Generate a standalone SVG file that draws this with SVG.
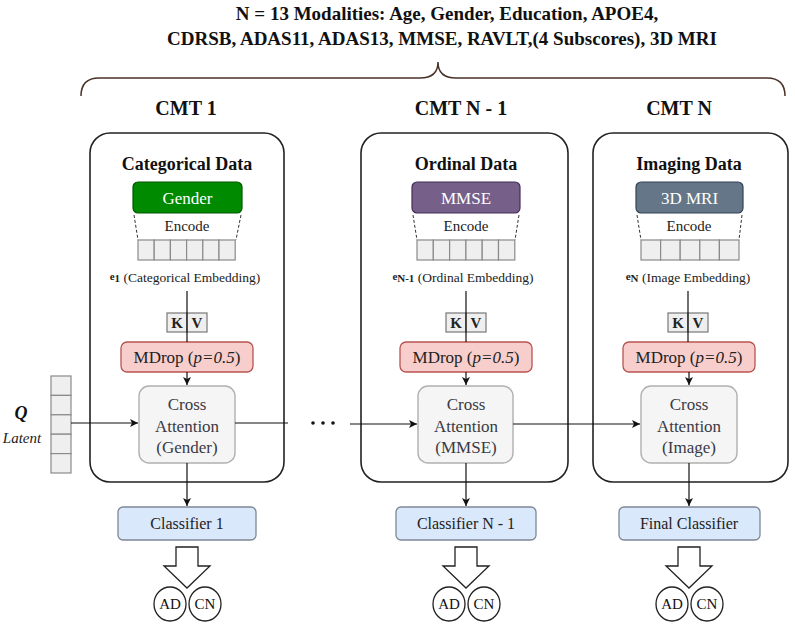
<svg xmlns="http://www.w3.org/2000/svg" width="795" height="625" viewBox="0 0 795 625">
<defs>
<marker id="ah" viewBox="0 0 10 10" refX="10" refY="5" markerWidth="8" markerHeight="8" markerUnits="userSpaceOnUse" orient="auto">
<path d="M0,0 L10,5 L0,10 L2.5,5 z" fill="#111"/>
</marker>
<style>
.t{font-family:"Liberation Serif","Times New Roman",serif;}
.title{font-size:19px;font-weight:bold;fill:#111;}
.cmt{font-size:20px;font-weight:bold;fill:#111;}
.hdr{font-size:18px;font-weight:bold;fill:#111;}
.cmt-box{fill:none;stroke:#222;stroke-width:1.6;}
.mod{font-size:17px;fill:#fff;}
.enc{font-size:15px;fill:#222;}
.cell{fill:#efefef;stroke:#8a8a8a;stroke-width:1.2;}
.dash{stroke:#333;stroke-width:1;stroke-dasharray:3 2;fill:none;}
.emb{font-size:13.5px;fill:#222;}
.embsub{font-size:11px;font-weight:bold;fill:#222;}
.kv{fill:#efefef;stroke:#777;stroke-width:1.2;}
.kvt{font-size:15px;font-weight:bold;fill:#222;}
.md{fill:#f8cecc;stroke:#b85450;stroke-width:1.3;}
.mdt{font-size:17px;fill:#222;}
.ca{fill:#f5f5f5;stroke:#b0b0b0;stroke-width:1.4;}
.cat{font-size:17px;fill:#3a3a44;}
.cl{fill:#dae8fc;stroke:#7d8896;stroke-width:1.3;}
.clt{font-size:16px;fill:#222;}
.ln{stroke:#111;stroke-width:1.2;fill:none;}
.hol{fill:#fff;stroke:#222;stroke-width:1.3;}
.circ{fill:#fff;stroke:#222;stroke-width:1.3;}
.ct{font-size:15px;fill:#111;}
</style>
</defs>

<g id="title">
<text class="t title" x="447" y="20" text-anchor="middle">N = 13 Modalities: Age, Gender, Education, APOE4,</text>
<text class="t title" x="442" y="45" text-anchor="middle">CDRSB, ADAS11, ADAS13, MMSE, RAVLT,(4 Subscores), 3D MRI</text>
<path d="M81,96 Q81,78 99,78 L420,78 Q438,78 438,62 Q438,78 456,78 L767,78 Q785,78 785,96" fill="none" stroke="#4a3228" stroke-width="1.5"/>
</g>

<g id="cmt1">
<text class="t cmt" x="186" y="115" text-anchor="middle">CMT 1</text>
<rect class="cmt-box" x="90" y="133" width="194" height="349" rx="20"/>
<text class="t hdr" x="187" y="170" text-anchor="middle">Categorical Data</text>
<rect x="133" y="182" width="109" height="31" rx="5" fill="#008a00" stroke="#005700" stroke-width="1.2"/>
<text class="t mod" x="187.5" y="204" text-anchor="middle">Gender</text>
<path class="dash" d="M134,215 L138,240 M241,215 L236,240"/>
<text class="t enc" x="187" y="231" text-anchor="middle">Encode</text>
<rect class="cell" x="138" y="240" width="16.2" height="20"/>
<rect class="cell" x="154.2" y="240" width="16.2" height="20"/>
<rect class="cell" x="170.4" y="240" width="16.2" height="20"/>
<rect class="cell" x="186.6" y="240" width="16.2" height="20"/>
<rect class="cell" x="202.8" y="240" width="16.2" height="20"/>
<rect class="cell" x="219" y="240" width="16.2" height="20"/>
<text class="t emb" x="185" y="282" text-anchor="middle"><tspan class="embsub" dy="-2">e</tspan><tspan class="embsub" dy="2">1</tspan> (Categorical Embedding)</text>
<rect class="kv" x="167" y="313" width="20" height="19"/>
<rect class="kv" x="187" y="313" width="20" height="19"/>
<text class="t kvt" x="177" y="328" text-anchor="middle">K</text>
<text class="t kvt" x="197" y="328" text-anchor="middle">V</text>
<rect class="md" x="121" y="342" width="132" height="30" rx="6"/>
<text class="t mdt" x="187" y="363" text-anchor="middle">MDrop (<tspan font-style="italic">p=0.5</tspan>)</text>
<rect class="ca" x="139" y="386" width="96" height="77" rx="10"/>
<text class="t cat" x="187" y="410" text-anchor="middle">Cross</text>
<text class="t cat" x="187" y="432" text-anchor="middle">Attention</text>
<text class="t cat" x="187" y="453" text-anchor="middle">(Gender)</text>
<rect class="cl" x="118" y="507" width="138" height="33" rx="5"/>
<text class="t clt" x="187" y="529" text-anchor="middle">Classifier 1</text>
<path class="hol" d="M176,547 L198,547 L198,566 L210,566 L187,588 L164,566 L176,566 Z"/>
<ellipse class="circ" cx="170" cy="604" rx="16" ry="17"/>
<ellipse class="circ" cx="205" cy="604" rx="16" ry="17"/>
<text class="t ct" x="170" y="609" text-anchor="middle">AD</text>
<text class="t ct" x="205" y="609" text-anchor="middle">CN</text>
</g>

<g id="latent">
<rect class="cell" x="51" y="376" width="20" height="19.4"/>
<rect class="cell" x="51" y="395.4" width="20" height="19.4"/>
<rect class="cell" x="51" y="414.8" width="20" height="19.4"/>
<rect class="cell" x="51" y="434.2" width="20" height="19.4"/>
<rect class="cell" x="51" y="453.6" width="20" height="19.4"/>
<text class="t" x="21" y="419" text-anchor="middle" font-size="18" font-weight="bold" font-style="italic" fill="#111">Q</text>
<text class="t" x="22" y="443" text-anchor="middle" font-size="15" font-style="italic" fill="#222">Latent</text>
</g>

<g id="cmtn1">
<text class="t cmt" x="461" y="115" text-anchor="middle">CMT N - 1</text>
<rect class="cmt-box" x="361" y="133" width="207" height="349" rx="20"/>
<text class="t hdr" x="466" y="170" text-anchor="middle">Ordinal Data</text>
<rect x="412" y="182" width="108" height="31" rx="5" fill="#76608a" stroke="#432d57" stroke-width="1.2"/>
<text class="t mod" x="466" y="204" text-anchor="middle">MMSE</text>
<path class="dash" d="M413,215 L417,240 M519,215 L515,240"/>
<text class="t enc" x="466" y="231" text-anchor="middle">Encode</text>
<rect class="cell" x="417" y="240" width="16.3" height="20"/>
<rect class="cell" x="433.3" y="240" width="16.3" height="20"/>
<rect class="cell" x="449.6" y="240" width="16.3" height="20"/>
<rect class="cell" x="465.9" y="240" width="16.3" height="20"/>
<rect class="cell" x="482.2" y="240" width="16.3" height="20"/>
<rect class="cell" x="498.5" y="240" width="16.3" height="20"/>
<text class="t emb" x="463" y="282" text-anchor="middle"><tspan class="embsub" dy="-2">e</tspan><tspan class="embsub" dy="2">N-1</tspan> (Ordinal Embedding)</text>
<rect class="kv" x="446" y="313" width="20" height="19"/>
<rect class="kv" x="466" y="313" width="20" height="19"/>
<text class="t kvt" x="456" y="328" text-anchor="middle">K</text>
<text class="t kvt" x="476" y="328" text-anchor="middle">V</text>
<rect class="md" x="400" y="342" width="132" height="30" rx="6"/>
<text class="t mdt" x="466" y="363" text-anchor="middle">MDrop (<tspan font-style="italic">p=0.5</tspan>)</text>
<rect class="ca" x="418" y="386" width="95" height="77" rx="10"/>
<text class="t cat" x="466" y="410" text-anchor="middle">Cross</text>
<text class="t cat" x="466" y="432" text-anchor="middle">Attention</text>
<text class="t cat" x="466" y="453" text-anchor="middle">(MMSE)</text>
<rect class="cl" x="396" y="507" width="140" height="33" rx="5"/>
<text class="t clt" x="466" y="529" text-anchor="middle">Classifier N - 1</text>
<path class="hol" d="M455,547 L477,547 L477,566 L489,566 L466,588 L443,566 L455,566 Z"/>
<ellipse class="circ" cx="449" cy="604" rx="16" ry="17"/>
<ellipse class="circ" cx="484" cy="604" rx="16" ry="17"/>
<text class="t ct" x="449" y="609" text-anchor="middle">AD</text>
<text class="t ct" x="484" y="609" text-anchor="middle">CN</text>
</g>

<g id="cmtn">
<text class="t cmt" x="679" y="115" text-anchor="middle">CMT N</text>
<rect class="cmt-box" x="593" y="133" width="195" height="349" rx="20"/>
<text class="t hdr" x="689" y="170" text-anchor="middle">Imaging Data</text>
<rect x="636" y="182" width="107" height="31" rx="5" fill="#647687" stroke="#314354" stroke-width="1.2"/>
<text class="t mod" x="689.5" y="204" text-anchor="middle">3D MRI</text>
<path class="dash" d="M637,215 L641,240 M742,215 L739,240"/>
<text class="t enc" x="689" y="231" text-anchor="middle">Encode</text>
<rect class="cell" x="641" y="240" width="19.6" height="20"/>
<rect class="cell" x="660.6" y="240" width="19.6" height="20"/>
<rect class="cell" x="680.2" y="240" width="19.6" height="20"/>
<rect class="cell" x="699.8" y="240" width="19.6" height="20"/>
<rect class="cell" x="719.4" y="240" width="19.6" height="20"/>
<text class="t emb" x="688" y="282" text-anchor="middle"><tspan class="embsub" dy="-2">e</tspan><tspan class="embsub" dy="2">N</tspan> (Image Embedding)</text>
<rect class="kv" x="668" y="313" width="20" height="19"/>
<rect class="kv" x="688" y="313" width="20" height="19"/>
<text class="t kvt" x="678" y="328" text-anchor="middle">K</text>
<text class="t kvt" x="698" y="328" text-anchor="middle">V</text>
<rect class="md" x="623" y="342" width="132" height="30" rx="6"/>
<text class="t mdt" x="689" y="363" text-anchor="middle">MDrop (<tspan font-style="italic">p=0.5</tspan>)</text>
<rect class="ca" x="641" y="386" width="96" height="77" rx="10"/>
<text class="t cat" x="689" y="410" text-anchor="middle">Cross</text>
<text class="t cat" x="689" y="432" text-anchor="middle">Attention</text>
<text class="t cat" x="689" y="453" text-anchor="middle">(Image)</text>
<rect class="cl" x="619" y="507" width="141" height="33" rx="5"/>
<text class="t clt" x="689" y="529" text-anchor="middle">Final Classifier</text>
<path class="hol" d="M678,547 L700,547 L700,566 L712,566 L689,588 L666,566 L678,566 Z"/>
<ellipse class="circ" cx="672" cy="604" rx="16" ry="17"/>
<ellipse class="circ" cx="707" cy="604" rx="16" ry="17"/>
<text class="t ct" x="672" y="609" text-anchor="middle">AD</text>
<text class="t ct" x="707" y="609" text-anchor="middle">CN</text>
</g>

<g id="connectors">
<path class="ln" d="M187,291 L187,342"/>
<path class="ln" d="M466,291 L466,342"/>
<path class="ln" d="M688,291 L688,342"/>
<path class="ln" d="M187,372 L187,385" marker-end="url(#ah)"/>
<path class="ln" d="M466,372 L466,385" marker-end="url(#ah)"/>
<path class="ln" d="M689,372 L689,385" marker-end="url(#ah)"/>
<path class="ln" d="M71,423 L138,423" marker-end="url(#ah)"/>
<path class="ln" d="M235,423 L288,423"/>
<circle cx="313" cy="423" r="1.8" fill="#111"/>
<circle cx="323" cy="423" r="1.8" fill="#111"/>
<circle cx="333" cy="423" r="1.8" fill="#111"/>
<path class="ln" d="M350,424 L417,424" marker-end="url(#ah)"/>
<path class="ln" d="M513,424 L640,424" marker-end="url(#ah)"/>
<path class="ln" d="M187,463 L187,506" marker-end="url(#ah)"/>
<path class="ln" d="M466,463 L466,506" marker-end="url(#ah)"/>
<path class="ln" d="M689,463 L689,506" marker-end="url(#ah)"/>
</g>
</svg>
